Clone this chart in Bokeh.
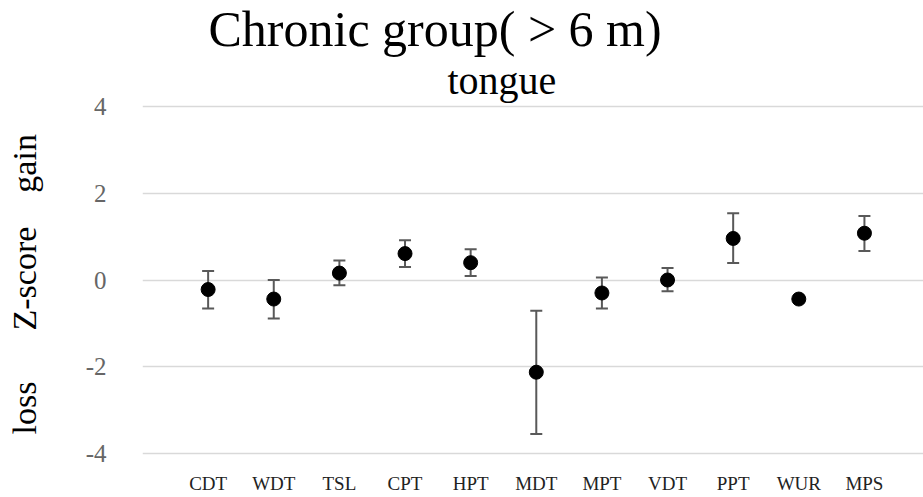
from bokeh.plotting import figure
from bokeh.models import ColumnDataSource, Whisker, TeeHead, FixedTicker, Title, Range1d
from bokeh.embed import file_html
from bokeh.resources import INLINE

categories = ["CDT", "WDT", "TSL", "CPT", "HPT", "MDT", "MPT", "VDT", "PPT", "WUR", "MPS"]
means = [-0.22, -0.44, 0.16, 0.61, 0.40, -2.13, -0.30, 0.00, 0.96, -0.44, 1.08]
upper = [0.21, 0.00, 0.45, 0.92, 0.71, -0.71, 0.06, 0.28, 1.54, float("nan"), 1.48]
lower = [-0.66, -0.89, -0.12, 0.30, 0.09, -3.56, -0.66, -0.26, 0.39, float("nan"), 0.67]
y_ticks = [-4, -2, 0, 2, 4]
y_tick_labels = ["-4", "-2", "0", "2", "4"]

positions = list(range(1, len(categories) + 1))
src = ColumnDataSource(dict(x=positions, y=means, upper=upper, lower=lower))

SERIF = "Liberation Serif"
NB = "\u00a0"

p = figure(width=923, height=497, output_backend="svg", toolbar_location=None,
           x_range=Range1d(0, 11.9), y_range=Range1d(-4.1, 4.1),
           min_border_left=142, min_border_right=0, min_border_top=101, min_border_bottom=40)
p.outline_line_color = None
p.background_fill_color = "white"
p.border_fill_color = "white"

p.title.text = "Chronic group( > 6 m)"
p.title.text_font = SERIF
p.title.text_font_size = "50px"
p.title.text_font_style = "normal"
p.title.text_color = "black"
p.title.align = "left"
p.title.offset = 66
p.title.standoff = -3
p.add_layout(Title(text="tongue", text_font=SERIF, text_font_size="40px", text_color="black",
                   text_font_style="normal", align="left", offset=305, standoff=0), "above")

w = Whisker(source=src, base="x", upper="upper", lower="lower", dimension="height",
            line_color="#595959", line_width=2,
            upper_head=TeeHead(size=12, line_color="#595959", line_width=2),
            lower_head=TeeHead(size=12, line_color="#595959", line_width=2))
p.add_layout(w)
p.scatter("x", "y", source=src, size=14, color="black")

p.xaxis.ticker = FixedTicker(ticks=positions)
p.xaxis.major_label_overrides = {i: c for i, c in zip(positions, categories)}
p.xaxis.axis_line_color = None
p.xaxis.major_tick_line_color = None
p.xaxis.minor_tick_line_color = None
p.xaxis.major_label_text_font = SERIF
p.xaxis.major_label_text_font_size = "19px"
p.xaxis.major_label_text_color = "#222222"
p.xaxis.major_label_standoff = 9
p.xgrid.grid_line_color = None

p.yaxis.ticker = FixedTicker(ticks=y_ticks)
p.yaxis.major_label_overrides = {t: s for t, s in zip(y_ticks, y_tick_labels)}
p.yaxis.axis_line_color = None
p.yaxis.major_tick_line_color = None
p.yaxis.minor_tick_line_color = None
p.yaxis.major_label_text_font = SERIF
p.yaxis.major_label_text_font_size = "25px"
p.yaxis.major_label_text_color = "#666666"
p.yaxis.major_label_standoff = 30
p.yaxis.axis_label = "loss" + NB * 6 + "Z-score" + NB * 4 + "gain" + NB
p.yaxis.axis_label_text_font = SERIF
p.yaxis.axis_label_text_font_size = "34px"
p.yaxis.axis_label_text_font_style = "normal"
p.yaxis.axis_label_text_color = "black"
p.yaxis.axis_label_standoff = 40
p.ygrid.grid_line_color = "#d9d9d9"
p.ygrid.grid_line_width = 1.5

open("out.html", "w").write(file_html(p, INLINE))
